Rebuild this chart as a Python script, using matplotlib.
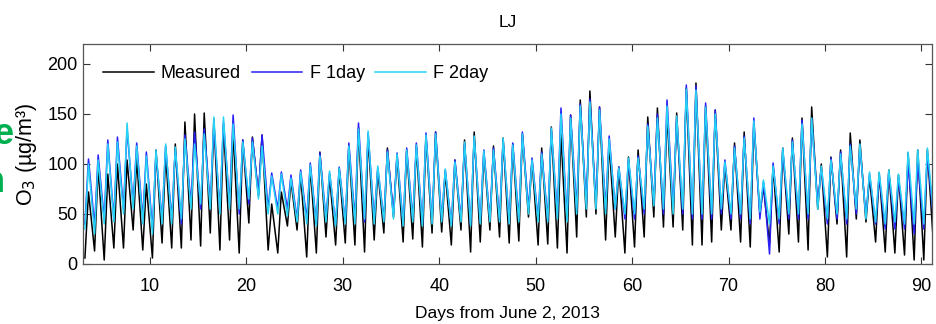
import numpy as np
import matplotlib
matplotlib.use("Agg")
import matplotlib.pyplot as plt

plt.rcParams['font.family'] = ['Liberation Sans', 'DejaVu Sans']

days = list(range(3, 92))
meas_min = [6, 13, 4, 16, 16, 34, 14, 6, 21, 16, 16, 24, 18, 31, 14, 24, 11, 41, 68, 14,
            11, 38, 34, 7, 11, 27, 19, 21, 19, 12, 24, 31, 47, 22, 25, 17, 31, 32, 19, 34,
            12, 22, 34, 27, 21, 23, 47, 19, 20, 16, 11, 27, 47, 50, 24, 27, 11, 17, 27, 47,
            37, 37, 34, 19, 19, 22, 34, 34, 22, 17, 51, 20, 12, 30, 22, 14, 55, 7, 40, 7,
            45, 42, 22, 12, 11, 9, 4, 4, 20]
meas_max = [72, 97, 90, 100, 104, 105, 80, 114, 110, 120, 142, 150, 151, 145, 139, 132, 124, 127, 129, 60,
            72, 83, 90, 98, 112, 88, 95, 118, 136, 128, 94, 116, 108, 114, 118, 128, 132, 92, 104, 124,
            132, 112, 118, 126, 120, 130, 104, 116, 137, 130, 149, 164, 173, 157, 121, 97, 107, 114, 147, 156,
            150, 151, 176, 181, 158, 154, 100, 121, 132, 140, 77, 98, 116, 126, 146, 157, 100, 107, 114, 131,
            124, 87, 91, 94, 89, 111, 114, 114, 100]
f1_min = [40, 38, 45, 45, 55, 60, 45, 35, 45, 45, 40, 60, 55, 60, 55, 60, 50, 60, 70, 55,
          55, 55, 45, 45, 40, 45, 40, 42, 45, 42, 45, 45, 50, 40, 45, 40, 42, 45, 40, 45,
          40, 42, 45, 45, 42, 45, 55, 45, 45, 50, 45, 55, 60, 60, 55, 55, 45, 45, 50, 60,
          50, 55, 50, 45, 45, 45, 50, 45, 45, 40, 45, 10, 40, 45, 45, 45, 60, 40, 45, 40,
          50, 48, 40, 35, 35, 35, 30, 35, 45]
f1_max = [105, 109, 124, 127, 135, 121, 112, 110, 118, 115, 129, 132, 135, 140, 142, 149, 124, 126, 129, 91,
          92, 89, 94, 101, 111, 91, 97, 121, 141, 131, 96, 114, 111, 116, 121, 131, 132, 94, 104, 120,
          126, 114, 116, 124, 121, 132, 106, 112, 134, 156, 149, 160, 165, 157, 128, 97, 104, 108, 140, 150,
          164, 146, 179, 178, 161, 154, 104, 118, 128, 146, 82, 101, 114, 124, 144, 145, 96, 106, 112, 120,
          118, 90, 88, 92, 86, 100, 102, 110, 110]
f2_min = [35, 30, 40, 42, 50, 55, 40, 30, 40, 40, 45, 55, 60, 55, 50, 55, 55, 65, 65, 50,
          50, 48, 42, 40, 38, 42, 38, 40, 40, 45, 40, 42, 45, 38, 42, 38, 40, 42, 38, 42,
          38, 40, 42, 42, 40, 42, 50, 42, 42, 45, 42, 50, 55, 55, 50, 55, 50, 50, 55, 58,
          55, 50, 55, 50, 50, 50, 55, 50, 50, 45, 52, 40, 45, 50, 50, 50, 55, 45, 50, 45,
          55, 45, 42, 40, 42, 40, 40, 40, 50]
f2_max = [100, 104, 120, 122, 141, 118, 108, 114, 120, 117, 125, 120, 130, 147, 147, 140, 122, 122, 118, 88,
          90, 86, 92, 99, 108, 93, 96, 118, 135, 133, 98, 112, 110, 114, 119, 129, 130, 95, 102, 122,
          128, 113, 114, 126, 119, 130, 104, 110, 136, 150, 146, 158, 162, 154, 125, 96, 106, 106, 138, 146,
          158, 148, 175, 174, 157, 150, 102, 116, 126, 143, 84, 98, 116, 122, 140, 146, 98, 104, 110, 118,
          120, 92, 92, 94, 90, 112, 114, 116, 115]

min_hour = 0.25   # early-morning minimum
max_hour = 0.62   # afternoon maximum


def series(mins, maxs):
    t, v = [], []
    for d, lo, hi in zip(days, mins, maxs):
        t += [d + min_hour, d + max_hour]
        v += [lo, hi]
    return np.array(t), np.array(v)


fig = plt.figure(figsize=(9.36, 3.24), dpi=100)
ax = fig.add_axes([83 / 936, 1 - 264 / 324, (932 - 83) / 936, (264 - 44) / 324])

t, v = series(meas_min, meas_max)
ax.plot(t, v, color='black', lw=1.1, label='Measured')
t, v = series(f1_min, f1_max)
ax.plot(t, v, color='#2a1ff5', lw=1.1, label='F 1day')
t, v = series(f2_min, f2_max)
ax.plot(t, v, color='#27d3f5', lw=1.1, label='F 2day')

ax.set_xlim(3.05, 91.1)
ax.set_ylim(0, 220)
ax.set_xticks(range(10, 91, 10))
ax.set_yticks(range(0, 201, 50))
ax.tick_params(direction='in', top=True, right=True, labelsize=13, length=5, width=0.8,
               colors='#333333', labelcolor='black')
ax.tick_params(axis='x', pad=10)
ax.tick_params(axis='y', pad=4)
for s in ax.spines.values():
    s.set_color('#555555')
    s.set_linewidth(0.9)

ax.set_title('LJ', fontsize=12.5, pad=12)
ax.set_xlabel('Days from June 2, 2013', fontsize=12.5, labelpad=8)
ax.set_ylabel('O$_3$ (\u00b5g/m\u00b3)', fontsize=15.5, labelpad=6)

leg = ax.legend(loc='center left', ncol=3, frameon=False, fontsize=13, handlelength=2.8,
                columnspacing=0.6, handletextpad=0.4, borderaxespad=0, borderpad=0,
                bbox_to_anchor=(20 / 849, (264 - 74) / 220))

# cropped green caption fragments at the left edge
fig.text(-6 / 936, 1 - 134 / 324, 'e', color='#00b050', fontsize=26, fontweight='bold',
         ha='left', va='center')
fig.text(5 / 936, 1 - 182 / 324, 'n', color='#00b050', fontsize=26, fontweight='bold',
         ha='right', va='center')

fig.savefig('out.png', dpi=100)
